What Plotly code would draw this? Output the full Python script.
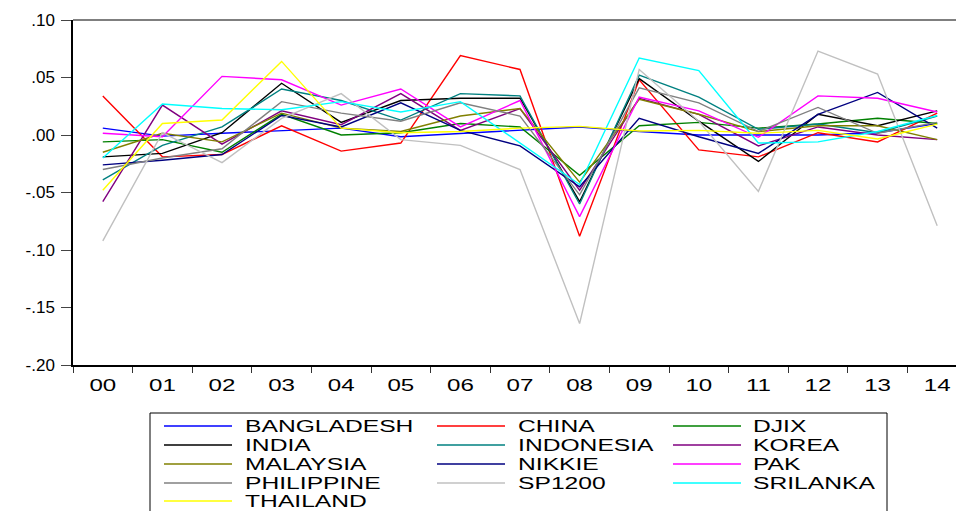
import plotly.graph_objects as go

# Yearly returns, 2000-2014
years = ["00", "01", "02", "03", "04", "05", "06", "07", "08", "09", "10", "11", "12", "13", "14"]

bangladesh = [0.006, -0.001, 0.0015, 0.004, 0.006, -0.0015, 0.0015, 0.004, 0.007, 0.003, 0.0, 0.0, 0.0, 0.002, 0.010]
china      = [0.034, -0.019, -0.017, 0.008, -0.014, -0.007, 0.069, 0.057, -0.088, 0.048, -0.013, -0.019, 0.002, -0.006, 0.019]
djix       = [-0.006, -0.004, -0.015, 0.018, 0.0, 0.002, 0.010, 0.007, -0.035, 0.008, 0.011, 0.006, 0.0095, 0.0145, 0.010]
india      = [-0.019, -0.016, 0.002, 0.045, 0.011, 0.030, 0.032, 0.032, -0.058, 0.049, 0.012, -0.023, 0.018, 0.008, 0.021]
indonesia  = [-0.039, -0.009, 0.007, 0.040, 0.030, 0.013, 0.036, 0.034, -0.060, 0.052, 0.033, 0.005, 0.0095, 0.002, 0.0165]
korea      = [-0.058, 0.026, -0.008, 0.021, 0.009, 0.036, 0.004, 0.023, -0.048, 0.032, 0.018, -0.0095, 0.007, 0.0, -0.004]
malaysia   = [-0.015, 0.0015, -0.006, 0.019, 0.006, 0.003, 0.0165, 0.023, -0.041, 0.031, 0.018, 0.003, 0.008, 0.008, -0.004]
nikkie     = [-0.026, -0.022, -0.017, 0.017, 0.007, 0.028, 0.004, -0.0095, -0.045, 0.0145, -0.0015, -0.016, 0.018, 0.037, 0.006]
pak        = [0.0015, -0.0015, 0.051, 0.048, 0.026, 0.040, 0.007, 0.030, -0.071, 0.033, 0.021, -0.002, 0.034, 0.032, 0.020]
philippine = [-0.030, -0.020, -0.012, 0.029, 0.019, 0.012, 0.028, 0.0165, -0.052, 0.041, 0.028, 0.003, 0.024, 0.0015, 0.011]
sp1200     = [-0.092, 0.002, -0.024, 0.0145, 0.036, -0.004, -0.009, -0.030, -0.164, 0.057, 0.012, -0.049, 0.073, 0.053, -0.079]
srilanka   = [-0.020, 0.027, 0.023, 0.022, 0.029, 0.020, 0.029, -0.007, -0.043, 0.067, 0.056, -0.007, -0.006, 0.003, 0.017]
thailand   = [-0.048, 0.010, 0.013, 0.064, 0.006, 0.002, 0.003, 0.006, 0.0075, 0.0035, 0.004, 0.0015, 0.004, -0.0035, 0.0095]

names = ["BANGLADESH", "CHINA", "DJIX", "INDIA", "INDONESIA", "KOREA", "MALAYSIA",
         "NIKKIE", "PAK", "PHILIPPINE", "SP1200", "SRILANKA", "THAILAND"]
series = [bangladesh, china, djix, india, indonesia, korea, malaysia,
          nikkie, pak, philippine, sp1200, srilanka, thailand]
colors = ["#0000FF", "#FF0000", "#008000", "#000000", "#008080", "#800080", "#808000",
          "#000080", "#FF00FF", "#808080", "#C0C0C0", "#00FFFF", "#FFFF00"]

y_ticks = [0.10, 0.05, 0.0, -0.05, -0.10, -0.15, -0.20]
y_labels = [".10", ".05", ".00", "-.05", "-.10", "-.15", "-.20"]

W, H = 956, 511
L, T, B = 73, 20, 146
PW, PH = W - L, H - T - B

def px(x):
    return (x - L) / PW

def py(y):
    return (H - B - y) / PH

FONT = "Liberation Sans, Arial, sans-serif"

fig = go.Figure()
xs = list(range(len(years)))
for name, vals, col in zip(names, series, colors):
    fig.add_trace(go.Scatter(x=xs, y=vals, mode="lines", name=name,
                             line=dict(color=col, width=1.4), showlegend=False))

fig.update_layout(
    width=W, height=H,
    margin=dict(l=L, r=0, t=T, b=B),
    paper_bgcolor="white", plot_bgcolor="white",
    font=dict(family=FONT, size=17, color="black"),
    xaxis=dict(
        range=[-0.5, -0.5 + PW / 59.6], tickmode="array", tickvals=xs, ticktext=years,
        ticks="", showgrid=False, zeroline=False,
        showline=True, linecolor="black", linewidth=1.5,
        tickfont=dict(size=17), ticklabelstandoff=4,
        minor=dict(tickmode="array", tickvals=[i + 0.5 for i in range(-1, 14)],
                   ticks="outside", ticklen=6, tickcolor="#333", tickwidth=1, showgrid=False),
    ),
    yaxis=dict(
        range=[-0.20, 0.10], tickmode="array", tickvals=y_ticks, ticktext=y_labels,
        ticks="outside", ticklen=10, tickcolor="#444", tickwidth=1,
        showgrid=False, zeroline=False,
        showline=True, linecolor="black", linewidth=1.5,
        tickfont=dict(size=17), ticklabelstandoff=3,
    ),
)

# top frame line
fig.add_shape(type="line", xref="paper", yref="paper", x0=0, x1=1, y0=1, y1=1,
              line=dict(color="#555", width=1.5))

# legend box
fig.add_shape(type="rect", xref="paper", yref="paper",
              x0=px(150), x1=px(887), y0=py(413), y1=py(525),
              line=dict(color="black", width=1), fillcolor="white", layer="above")

col_line = [(164, 232), (437, 505), (673, 741)]
col_text = [243, 516, 751]
row_y = [426, 445, 464, 483, 501]
for i, (name, col) in enumerate(zip(names, colors)):
    r, c = divmod(i, 3)
    x0, x1 = col_line[c]
    yy = row_y[r]
    fig.add_shape(type="line", xref="paper", yref="paper",
                  x0=px(x0), x1=px(x1), y0=py(yy), y1=py(yy),
                  line=dict(color=col, width=1.5), layer="above")
    fig.add_annotation(x=px(col_text[c]), y=py(yy), xref="paper", yref="paper",
                       text=name, showarrow=False, xanchor="left", yanchor="middle",
                       font=dict(family=FONT, size=17, color="black"))

# widen the legend and category labels horizontally (left edge / centre kept in place)
post = """
function widen(t, s, keepLeft) {
  var bb = t.getBBox();
  var ox = keepLeft ? bb.x : bb.x + bb.width / 2;
  var tr = t.getAttribute('transform') || '';
  t.setAttribute('transform', tr + ' translate(' + ox + ',0) scale(' + s + ',1) translate(' + (-ox) + ',0)');
}
document.querySelectorAll('.annotation-text').forEach(function(t){ widen(t, 1.45, true); });
document.querySelectorAll('.xtick text').forEach(function(t){ widen(t, 1.42, false); });
"""

fig.write_html("out.html", post_script=post)
